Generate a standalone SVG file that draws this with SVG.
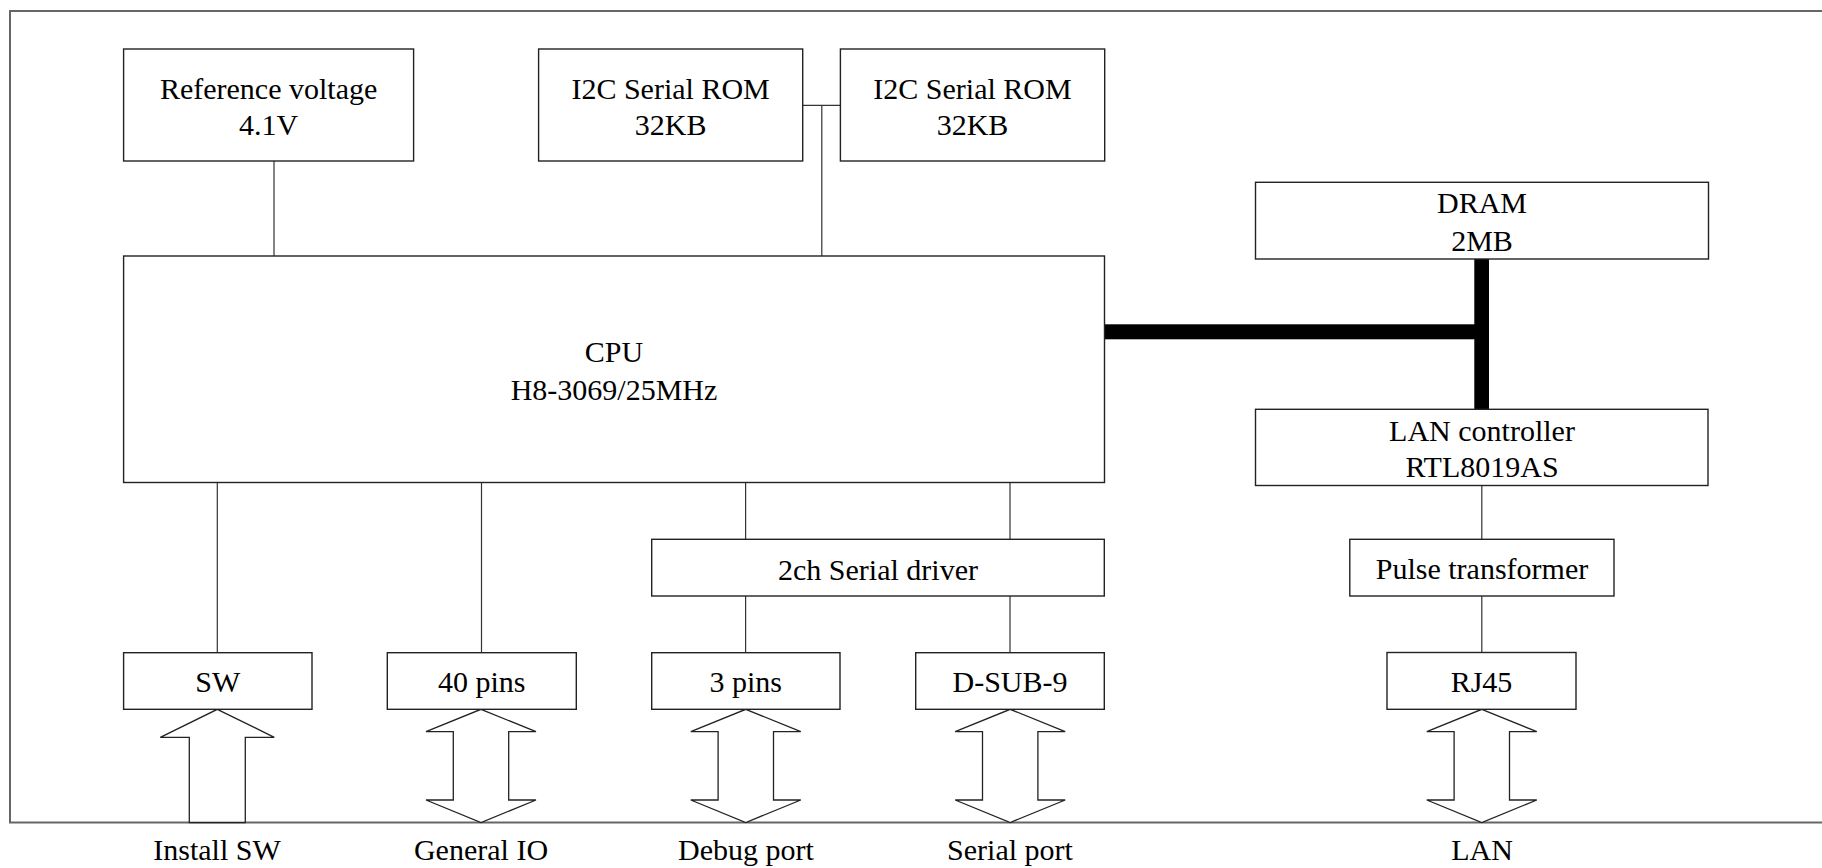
<svg xmlns="http://www.w3.org/2000/svg" width="1822" height="868" viewBox="0 0 1822 868">
<style>
.box{fill:#fff;stroke:#222;stroke-width:1.4}
.ln{stroke:#333;stroke-width:1.2;fill:none}
.arr{fill:#fff;stroke:#222;stroke-width:1.3;stroke-linejoin:miter}
text{font-family:'Liberation Serif','Tinos','Times New Roman','DejaVu Serif',serif;font-size:30px;fill:#000;text-anchor:middle}
</style>
<rect width="1822" height="868" fill="#fff"/>
<rect x="10" y="11" width="1830" height="811.5" fill="none" stroke="#666" stroke-width="2"/>
<g id="connectors">
<line class="ln" x1="274" y1="161" x2="274" y2="256"/>
<line class="ln" x1="802.7" y1="105.3" x2="840.4" y2="105.3"/>
<line class="ln" x1="821.8" y1="105.3" x2="821.8" y2="256"/>
<line class="ln" x1="217.3" y1="482.5" x2="217.3" y2="652.7"/>
<line class="ln" x1="481.5" y1="482.5" x2="481.5" y2="652.7"/>
<line class="ln" x1="745.6" y1="482.5" x2="745.6" y2="539.3"/>
<line class="ln" x1="1010" y1="482.5" x2="1010" y2="539.3"/>
<line class="ln" x1="745.6" y1="596" x2="745.6" y2="652.7"/>
<line class="ln" x1="1010" y1="596" x2="1010" y2="652.7"/>
<line class="ln" x1="1481.8" y1="485.5" x2="1481.8" y2="539.3"/>
<line class="ln" x1="1481.8" y1="596" x2="1481.8" y2="652.5"/>
<rect x="1104.5" y="324.3" width="384.5" height="15" fill="#000"/>
<rect x="1474.3" y="259" width="14.7" height="150.3" fill="#000"/>
<polygon class="arr" points="217.3,709.3 274.3,737.3 245.3,737.3 245.3,822.5 189.3,822.5 189.3,737.3 160.3,737.3"/>
<polygon class="arr" points="481,709.3 536,731.7 508.7,731.7 508.7,800 536,800 481,822.5 426,800 453.3,800 453.3,731.7 426,731.7"/>
<polygon class="arr" points="745.8,709.3 800.8,731.7 773.5,731.7 773.5,800 800.8,800 745.8,822.5 690.8,800 718.1,800 718.1,731.7 690.8,731.7"/>
<polygon class="arr" points="1010.2,709.3 1065.2,731.7 1037.9,731.7 1037.9,800 1065.2,800 1010.2,822.5 955.2,800 982.5,800 982.5,731.7 955.2,731.7"/>
<polygon class="arr" points="1481.8,709.3 1536.8,731.7 1509.5,731.7 1509.5,800 1536.8,800 1481.8,822.5 1426.8,800 1454.1,800 1454.1,731.7 1426.8,731.7"/>
</g>
<g id="refvolt"><rect class="box" x="123.6" y="49" width="290" height="112"/><text x="268.6" y="99">Reference voltage</text><text x="268.6" y="135">4.1V</text></g>
<g id="rom1"><rect class="box" x="538.6" y="49" width="264.1" height="112"/><text x="670.6" y="99">I2C Serial ROM</text><text x="670.6" y="135">32KB</text></g>
<g id="rom2"><rect class="box" x="840.4" y="49" width="264.3" height="112"/><text x="972.5" y="99">I2C Serial ROM</text><text x="972.5" y="135">32KB</text></g>
<g id="cpu"><rect class="box" x="123.6" y="256" width="980.9" height="226.5"/><text x="614" y="361.7">CPU</text><text x="614" y="400">H8-3069/25MHz</text></g>
<g id="dram"><rect class="box" x="1255.5" y="182.3" width="453" height="76.7"/><text x="1482" y="212.7">DRAM</text><text x="1482" y="250.5">2MB</text></g>
<g id="lanctl"><rect class="box" x="1255.5" y="409.3" width="452.5" height="76.2"/><text x="1482" y="441">LAN controller</text><text x="1482" y="477.3">RTL8019AS</text></g>
<g id="serdrv"><rect class="box" x="651.7" y="539.3" width="452.6" height="56.7"/><text x="878" y="580">2ch Serial driver</text></g>
<g id="pulse"><rect class="box" x="1349.8" y="539.3" width="264.2" height="56.7"/><text x="1482" y="578.5">Pulse transformer</text></g>
<g id="sw"><rect class="box" x="123.6" y="652.7" width="188.4" height="56.6"/><text x="217.8" y="692.2">SW</text></g>
<g id="pins40"><rect class="box" x="387.3" y="652.7" width="189" height="56.6"/><text x="481.8" y="692.2">40 pins</text></g>
<g id="pins3"><rect class="box" x="651.7" y="652.7" width="188.3" height="56.6"/><text x="745.8" y="692.2">3 pins</text></g>
<g id="dsub"><rect class="box" x="915.7" y="652.7" width="188.6" height="56.6"/><text x="1010" y="692.2">D-SUB-9</text></g>
<g id="rj45"><rect class="box" x="1387" y="652.5" width="189" height="56.8"/><text x="1481.5" y="692">RJ45</text></g>
<g id="labels">
<text x="217" y="859.5">Install SW</text>
<text x="481" y="859.5">General IO</text>
<text x="746" y="859.5">Debug port</text>
<text x="1010" y="859.5">Serial port</text>
<text x="1482" y="859.5">LAN</text>
</g>
</svg>
